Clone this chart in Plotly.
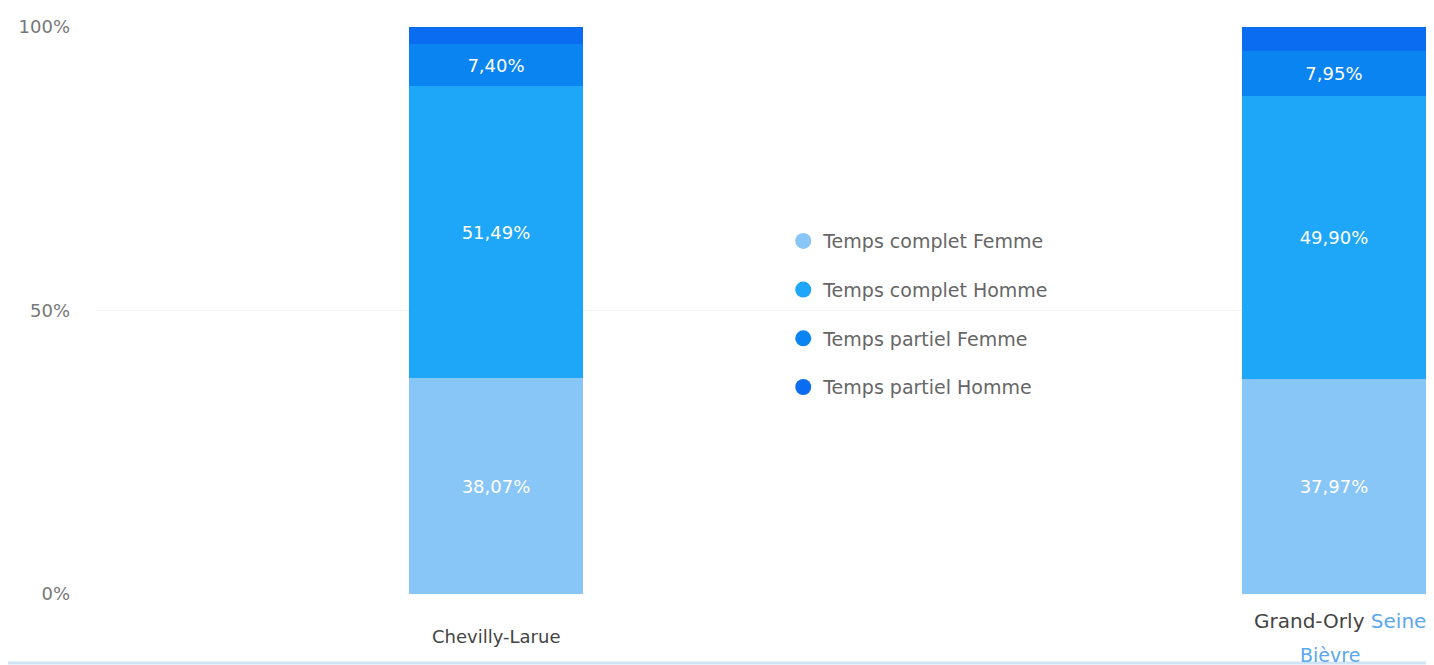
import plotly.graph_objects as go

categories = ["Chevilly-Larue", "Grand-Orly Seine Bièvre"]
series_names = ["Temps complet Femme", "Temps complet Homme", "Temps partiel Femme", "Temps partiel Homme"]
complet_femme = [38.07, 37.97]
complet_homme = [51.49, 49.90]
partiel_femme = [7.40, 7.95]
partiel_homme = [3.04, 4.18]
y_tickvals = [0, 50, 100]
y_ticktext = ["0%", "50%", "100%"]

colors = ["#88c6f8", "#1ea6f8", "#0a84f0", "#0a6cf0"]
values = [complet_femme, complet_homme, partiel_femme, partiel_homme]
show_text = [True, True, True, False]

FONT = "DejaVu Sans, Verdana, sans-serif"
fig = go.Figure()
for name, vals, col, st in zip(series_names, values, colors, show_text):
    fig.add_trace(go.Bar(
        x=[0, 1], y=vals, name=name, marker=dict(color=col, line=dict(width=0)),
        width=[0.207, 0.22],
        texttemplate="%{y:.2f}%" if st else "",
        textposition="inside", insidetextanchor="middle",
        textfont=dict(color="white", size=18, family=FONT),
        showlegend=False, hoverinfo="skip",
    ))
for i, (name, col) in enumerate(zip(series_names, colors)):
    fig.add_trace(go.Scatter(
        x=[None], y=[None], mode="markers", name=name, legendgroup=f"g{i}",
        marker=dict(color=col, size=16, symbol="circle"),
    ))

# category labels
fig.add_annotation(x=0, y=0, xref="x", yref="y", text=categories[0], showarrow=False,
                   yanchor="middle", yshift=-42,
                   font=dict(size=18, family=FONT, color="#444"))
fig.add_annotation(x=1, y=0, xref="x", yref="y",
                   text="<span style='color:#444'>Grand-Orly</span> <span style='color:#5aa8ee'>Seine</span>",
                   showarrow=False, yanchor="middle", yshift=-27, xshift=6,
                   font=dict(size=20, family=FONT, color="#444"))
fig.add_annotation(x=1, y=0, xref="x", yref="y",
                   text="<span style='color:#5aa8ee'>Bièvre</span>",
                   showarrow=False, yanchor="middle", yshift=-61, xshift=-4,
                   font=dict(size=19, family=FONT, color="#5aa8ee"))

# light frame at bottom
fig.add_shape(type="line", xref="paper", yref="paper", x0=-0.07, x1=1.0, y0=-0.1217, y1=-0.1217,
              line=dict(color="#cfe3f6", width=3))

fig.update_layout(
    barmode="stack",
    width=1426, height=657,
    margin=dict(l=87, r=0, t=19, b=71),
    paper_bgcolor="white", plot_bgcolor="white",
    separators=",.",
    font=dict(family=FONT, color="#666"),
    xaxis=dict(range=[-0.4785, 1.1194], showticklabels=False, showgrid=False, zeroline=False,
               fixedrange=True),
    yaxis=dict(range=[0, 100], tickvals=y_tickvals, ticktext=y_ticktext,
               showgrid=True, gridcolor="#f4f4f4", gridwidth=1, zeroline=False,
               tickfont=dict(size=18, color="#777", family=FONT), ticklabelstandoff=24),
    legend=dict(x=0.514, y=0.656, xanchor="left", yanchor="top", traceorder="grouped",
                tracegroupgap=21, font=dict(size=19, color="#666", family=FONT),
                bgcolor="rgba(0,0,0,0)", itemwidth=30),
)

fig.write_html("out.html")
